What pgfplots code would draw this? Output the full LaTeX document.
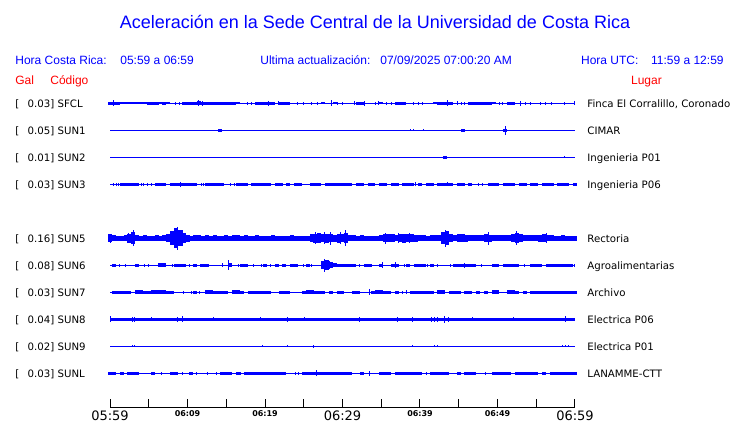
\documentclass[border=0pt]{standalone}
\usepackage{fontspec}
\setmainfont{DejaVu Sans}
\newfontfamily\arial{Liberation Sans}
\usepackage{pgfplots}
\usepackage{pgfplotstable}
\pgfplotsset{compat=1.18}

% time in minutes after 05:59, amplitude a = half height in px (1 px = 0.5pt)
% B = wide blocks (0.5 min), S = thin spikes
\pgfplotstableread[row sep=\\]{t a\\0 1.5\\0.5 1.5\\1 1.5\\1.5 1.2\\2 1.2\\2.5 1.2\\3 1.2\\3.5 1.2\\4 1.2\\4.5 1.2\\5 1.3\\5.5 1.3\\6 1.3\\6.5 1.2\\7 1.3\\7.5 1.2\\9.5 1.3\\10 1.3\\10.5 1.5\\11 1.5\\11.5 1.8\\12 1.3\\12.5 1.3\\13 1.3\\13.5 1.3\\14 1.3\\14.5 1.3\\15 1.3\\15.5 1.3\\16 1.3\\16.5 1.2\\19 1.3\\19.5 1.3\\20 1.5\\20.5 1.5\\21 1.3\\22 1.3\\22.5 1.3\\23 1.3\\27.5 1.2\\29 1.2\\32 1.3\\32.5 1.5\\35 1.2\\37 1.3\\37.5 1.3\\38 1.3\\42 1.2\\42.5 1.3\\43 1.3\\43.5 1.5\\44 1.3\\46.5 1.3\\47 1.3\\47.5 1.3\\48 1.3\\48.5 1.3\\49 1.3\\49.5 1.2\\51.5 1.3\\52 1.3\\}\sfclB
\pgfplotstableread[row sep=\\]{t a\\0.5 3\\8.5 1.5\\9 1.5\\11.4 3\\11.9 2.5\\17.7 1.5\\18.2 1.5\\20.4 2.5\\21.8 2\\24.2 1.5\\25 1.5\\26 1.5\\26.8 1.5\\28.6 3\\29.4 1.5\\30 1.5\\31.6 2\\32.8 2.5\\34.2 1.5\\34.7 2\\35.7 1.5\\36.3 1.5\\39.2 1.5\\39.8 1.5\\40.3 1.5\\43.5 3\\44.8 2\\45.3 1.5\\45.8 1.5\\50.2 1.5\\50.7 1.5\\53 2.5\\53.6 1.5\\54.3 1.5\\55.6 1.5\\56.2 1.5\\57 1.5\\58.7 1.5\\60 2\\}\sfclS

\pgfplotstableread[row sep=\\]{t a\\14.2 1.5\\45.5 1.5\\51 1.5\\}\sunaB
\pgfplotstableread[row sep=\\]{t a\\38.8 1\\39.1 1\\40.4 1\\51 4.3\\}\sunaS

\pgfplotstableread[row sep=\\]{t a\\43.2 1.5\\}\sunbB
\pgfplotstableread[row sep=\\]{t a\\58.7 0.8\\}\sunbS

\pgfplotstableread[row sep=\\]{t a\\1.5 1.5\\2 1.5\\2.5 1.5\\3 1.5\\3.5 1.5\\6 1.5\\6.5 1.5\\7 1.5\\8 1.5\\8.5 1.5\\9 1.6\\9.5 1.5\\10 1.5\\10.5 1.5\\11 1.5\\12.5 1.5\\13 1.5\\13.5 1.5\\14 1.5\\14.5 1.5\\16.5 1.5\\17 1.5\\17.5 1.5\\18.5 1.5\\19 1.5\\19.5 1.5\\20 1.5\\20.5 1.5\\21.5 1.5\\22 1.5\\23 1.5\\24 1.5\\24.5 1.5\\26 1.5\\26.5 1.5\\27 1.5\\28 1.5\\28.5 1.5\\29 1.5\\29.5 1.5\\30 1.5\\30.5 1.5\\31 1.5\\32 1.5\\32.5 1.5\\33.5 1.5\\34 1.5\\35 1.5\\35.5 1.5\\36.5 1.5\\37 1.5\\38 1.5\\38.5 1.5\\39 1.5\\40 1.5\\41 1.5\\41.5 1.5\\42.5 1.5\\43 1.5\\43.5 1.6\\44 1.5\\45 1.5\\45.5 1.5\\46.5 1.5\\49 1.5\\49.5 1.5\\50 1.5\\51 1.5\\51.5 1.5\\52 1.5\\53 1.5\\53.5 1.5\\54.5 1.5\\55 1.5\\56 1.5\\56.5 1.5\\57 1.5\\58 1.5\\58.5 1.5\\59 1.5\\60 1.5\\}\suncB
\pgfplotstableread[row sep=\\]{t a\\0.4 1.5\\0.8 1.5\\1.1 1.5\\4 1.5\\4.3 1.5\\4.9 1.5\\5.3 1.5\\9.1 2.5\\11.8 1.5\\12.1 1.5\\15.6 1.5\\16 1.5\\39.4 2\\43.6 2\\47.5 1.5\\48.1 1.5\\}\suncS

\pgfplotstableread[row sep=\\]{t a\\0 4\\0.5 3\\1 2.5\\1.5 2.5\\2 3\\2.5 4.5\\3 6\\3.5 3\\4 2.5\\4.5 3\\5 2.5\\5.5 2.5\\6 3\\6.5 2.5\\7 3\\7.5 4\\8 7\\8.5 10\\9 8\\9.5 5\\10 3.5\\10.5 2.5\\11 3\\11.5 3\\12 2.5\\12.5 3\\13 2.5\\13.5 3\\14 2.5\\14.5 2.5\\15 3\\15.5 2.5\\16 3\\16.5 3\\17 2.5\\17.5 3\\18 2.5\\18.5 2.5\\19 3\\19.5 2.5\\20 2.5\\20.5 2.5\\21 3\\21.5 2.5\\22 2.5\\22.5 2.5\\23 2.5\\23.5 3\\24 2.5\\24.5 2.5\\25 2.5\\25.5 2.5\\26 4\\26.5 4.5\\27 5\\27.5 4\\28 4.5\\28.5 4\\29 3.5\\29.5 4.5\\30 4\\30.5 5\\31 3\\31.5 3\\32 2.5\\32.5 3\\33 2.5\\33.5 2.5\\34 2.5\\34.5 2.5\\35 3\\35.5 4\\36 4\\36.5 4\\37 3\\37.5 4\\38 4.5\\38.5 4\\39 4\\39.5 3.5\\40 3\\40.5 3\\41 2.5\\41.5 3\\42 3\\42.5 3\\43 6\\43.5 7\\44 4\\44.5 3\\45 4\\45.5 4\\46 3.5\\46.5 3\\47 3\\47.5 3\\48 3\\48.5 4\\49 3.5\\49.5 3\\50 3\\50.5 3\\51 3\\51.5 3\\52 4\\52.5 5\\53 4\\53.5 3\\54 3\\54.5 3\\55 3\\55.5 3.5\\56 4\\56.5 3\\57 3\\57.5 2.5\\58 2.5\\58.5 3\\59 2.5\\59.5 2.5\\60 2.5\\}\suneB
\pgfplotstableread[row sep=\\]{t a\\0.1 4.5\\2.4 5\\3 8\\8.3 9\\8.7 11.5\\9.3 8\\26.5 6\\27.7 6\\28.4 6.5\\29.8 6\\30.4 8\\35.6 5.5\\37.2 5\\38.6 5\\43.3 8.5\\48.9 6.5\\52.4 7\\56.3 5\\}\suneS

\pgfplotstableread[row sep=\\]{t a\\0.5 1.3\\3.5 1.3\\6.5 1.8\\7 1.8\\8.5 1.5\\9 1.5\\9.5 1.3\\11 1.3\\12 1.3\\12.5 1.3\\15.5 2\\17 1.3\\17.5 1.3\\20 1.3\\21.5 1.3\\22.5 1.3\\23.5 1.3\\24 1.3\\25.5 1.3\\27.5 4\\28 5\\28.5 3\\29 2\\29.5 1.3\\30 1.3\\30.5 1.3\\31 1.3\\31.5 1.3\\33 1.3\\33.5 1.3\\35 1.3\\36.5 1.5\\37 1.3\\38.5 1.3\\39.5 1.3\\40 1.3\\40.5 1.3\\41.5 1.3\\44.5 1.3\\45 1.3\\45.5 1.5\\46 1.3\\46.5 1.3\\47 1.3\\49.5 1.3\\50 1.3\\51 1.3\\51.5 1.3\\52 1.3\\52.5 1.3\\54.5 1.3\\55 1.3\\55.5 1.3\\56.5 1.3\\57 1.3\\57.5 1.3\\58 1.3\\58.5 1.3\\59 1.3\\59.5 1.3\\}\sunfB
\pgfplotstableread[row sep=\\]{t a\\1.2 1.5\\2 1.5\\4.5 1.5\\5 1.5\\8 1.5\\10.3 1.5\\11.7 1.5\\14.5 2\\15.3 5\\16.6 1.5\\18.5 1.5\\19.5 1.5\\20.7 1.5\\25 1.5\\26 1.5\\27.7 6.5\\28.3 4\\32.2 1.5\\35.2 3\\36.9 3\\38 1.5\\41 1.5\\42.2 1.5\\44 1.5\\45.8 2.5\\48 1.5\\53.5 1.5\\60 1.5\\}\sunfS

\pgfplotstableread[row sep=\\]{t a\\0.5 1.5\\1 1.5\\1.5 1.5\\2 1.5\\2.5 1.5\\3.5 2\\4 2\\4.5 1.5\\5 1.5\\5.5 2\\6 2\\6.5 2\\7 2\\7.5 1.5\\8 1.5\\11 1.5\\12.5 2\\13 2\\13.5 1.5\\14 1.5\\14.5 1.5\\15 1.5\\16 2\\16.5 2\\17 1.5\\18 1.5\\18.5 1.5\\19 1.5\\19.5 1.5\\20 1.5\\20.5 1.5\\22 1.5\\22.5 1.5\\23 1.5\\25 1.5\\25.5 2\\26 2\\26.5 1.5\\27 1.5\\27.5 1.5\\28.5 1.5\\29.5 1.5\\30 1.5\\31.5 1.5\\32 1.5\\34 1.5\\34.5 2\\35 2\\35.5 1.5\\36 1.5\\37 1.5\\39 1.5\\39.5 1.5\\40 1.5\\40.5 1.5\\41 1.5\\41.5 1.5\\42.5 2\\43 2\\44 1.5\\44.5 1.5\\45 1.5\\46 1.5\\46.5 1.5\\47.5 1.5\\48.5 1.5\\49.5 2\\50 2\\51.5 2\\52 2\\52.5 1.5\\53.5 1.5\\54.5 1.5\\55 1.5\\55.5 1.5\\56 1.5\\56.5 1.5\\57 1.5\\57.5 1.5\\58 1.5\\58.5 1.5\\59 1.5\\59.5 1.5\\60 1.5\\}\sungB
\pgfplotstableread[row sep=\\]{t a\\9.5 1.5\\10.5 1.5\\11.6 1.5\\33.5 3\\36.8 1.5\\37.8 1.5\\38.2 2\\}\sungS

\pgfplotstableread[row sep=\\]{t a\\0.1 3\\2.9 2.5\\3.1 2.5\\5.4 2\\8.7 2.5\\9.4 3\\13.3 2\\19.4 2\\22.9 2.5\\25.1 2\\32.2 2.5\\37.1 2.5\\39 2.5\\41.5 2.5\\41.9 2.5\\42.2 2.5\\43.2 3.5\\43.7 2.5\\46.8 2\\52.1 2\\58.8 3\\}\sunhS

\pgfplotstableread[row sep=\\]{t a\\2.9 1\\3.2 1\\19.7 0.8\\22.9 0.8\\26.2 1.5\\39 1\\41.9 1\\42.2 1\\58.4 1\\58.8 1\\59.1 1\\}\suniS

\pgfplotstableread[row sep=\\]{t a\\0 1.3\\0.5 1.3\\1.5 1.3\\2.5 1.3\\3 1.3\\3.5 1.3\\5.5 1.3\\8 1.3\\8.5 1.3\\10.5 1.3\\14.5 1.3\\15 1.3\\15.5 1.3\\16.5 1.3\\17.5 1.3\\18 1.3\\18.5 1.3\\19 1.3\\19.5 1.3\\20 1.3\\20.5 1.3\\21 1.3\\21.5 1.3\\22 1.3\\22.5 1.3\\25 1.3\\25.5 1.3\\26 1.3\\26.5 1.3\\27 1.3\\27.5 1.3\\28 1.3\\28.5 1.3\\29 1.3\\29.5 1.3\\30 1.3\\30.5 1.3\\31 1.3\\32.5 1.3\\35 1.3\\35.5 1.3\\36 1.3\\37 1.3\\37.5 1.3\\38 1.3\\38.5 1.3\\39 1.3\\39.5 1.3\\40 1.3\\41.5 1.3\\42 1.3\\42.5 1.3\\43 1.3\\43.5 1.3\\45 1.3\\46 1.3\\46.5 1.3\\47 1.3\\49.5 1.3\\50 1.3\\50.5 1.3\\51 1.3\\51.5 1.3\\52.5 1.3\\53 1.3\\53.5 1.3\\54 1.3\\54.5 1.3\\55 1.3\\56 1.3\\57 1.3\\57.5 1.3\\58 1.3\\58.5 1.3\\59 1.3\\59.5 1.3\\60 1.3\\}\sunlB
\pgfplotstableread[row sep=\\]{t a\\6.6 1.5\\9.3 1.5\\11.2 1.5\\12.6 1.5\\13.8 1.5\\16.8 1.5\\23.9 1.5\\24.3 1.5\\26.6 3\\33.5 2.5\\40.8 1.5\\44.8 1.5\\48.4 1.5\\56.2 1.5\\}\sunlS

\newcommand{\traceline}[1]{%
  \addplot[blue, line width=0.5pt] coordinates {(0,#1) (60,#1)};}
\newcommand{\blocks}[2]{%
  \addplot[draw=none, mark=none, error bars/.cd, y dir=both, y explicit, error mark=none,
    error bar style={draw=blue, line width=2pt}] table[x=t, y expr=#1, y error=a] {#2};}
\newcommand{\spikes}[2]{%
  \addplot[draw=none, mark=none, error bars/.cd, y dir=both, y explicit, error mark=none,
    error bar style={draw=blue, line width=0.5pt}] table[x=t, y expr=#1, y error=a] {#2};}
% left and right labels; #1 = baseline (negative px)
\newcommand{\station}[4]{%
  \node[lbl] at (axis cs:-12.258,#1) {[};
  \node[lbl] at (axis cs:-10.671,#1) {#2] #3};
  \node[lbl] at (axis cs:61.548,#1) {#4};}

\begin{document}
\begin{tikzpicture}[
  lbl/.style={anchor=base west, inner sep=0pt, font=\fontsize{5.1}{6}\selectfont},
  hdr/.style={anchor=base west, inner sep=0pt, text=blue, font=\arial\fontsize{6}{7}\selectfont}]
\begin{axis}[
  scale only axis, width=232.5pt, height=204pt,
  xmin=0, xmax=60, ymin=-408, ymax=0,
  axis x line*=bottom, axis y line=none,
  x axis line style={-, black, line width=0.5pt},
  clip=false,
  xtick={0,10,...,60}, minor xtick={5,15,...,55},
  tick align=inside, major tick length=4.5pt, minor tick length=4.5pt,
  every tick/.style={black, line width=0.5pt},
  xticklabels={{\fontsize{6.5}{7}\selectfont 05:59},
    {\fontsize{4}{5}\selectfont\bfseries 06:09},
    {\fontsize{4}{5}\selectfont\bfseries 06:19},
    {\fontsize{6.5}{7}\selectfont 06:29},
    {\fontsize{4}{5}\selectfont\bfseries 06:39},
    {\fontsize{4}{5}\selectfont\bfseries 06:49},
    {\fontsize{6.5}{7}\selectfont 06:59}},
  xticklabel style={anchor=north, inner sep=0pt, yshift=-1.2pt},
]
\path (axis cs:-14.194,0) -- (axis cs:81.290,-423);

\node[anchor=base, inner sep=0pt, text=blue, font=\arial\fontsize{9}{10}\selectfont]
  at (axis cs:34.194,-29) {Aceleración en la Sede Central de la Universidad de Costa Rica};
\node[hdr] at (axis cs:-12.258,-65) {Hora Costa Rica:};
\node[hdr] at (axis cs:1.290,-65) {05:59 a 06:59};
\node[hdr] at (axis cs:19.355,-65) {Ultima actualización:};
\node[hdr] at (axis cs:34.839,-65) {07/09/2025 07:00:20 AM};
\node[hdr] at (axis cs:60.735,-65) {Hora UTC:};
\node[hdr] at (axis cs:69.768,-65) {11:59 a 12:59};
\node[hdr, text=red] at (axis cs:-12.258,-85) {Gal};
\node[hdr, text=red] at (axis cs:-7.742,-85) {Código};
\node[hdr, text=red] at (axis cs:67.187,-85) {Lugar};

\traceline{-103.3}\blocks{-103.3}{\sfclB}\spikes{-103.3}{\sfclS}
\traceline{-130.3}\blocks{-130.3}{\sunaB}\spikes{-130.3}{\sunaS}
\traceline{-157.3}\blocks{-157.3}{\sunbB}\spikes{-157.3}{\sunbS}
\traceline{-184.3}\blocks{-184.3}{\suncB}\spikes{-184.3}{\suncS}
\traceline{-238.3}\blocks{-238.3}{\suneB}\spikes{-238.3}{\suneS}
\traceline{-265.3}\blocks{-265.3}{\sunfB}\spikes{-265.3}{\sunfS}
\traceline{-292.3}\blocks{-292.3}{\sungB}\spikes{-292.3}{\sungS}
\addplot[blue, line width=1.7pt] coordinates {(0,-319.3) (60,-319.3)};
\spikes{-319.3}{\sunhS}
\traceline{-346.3}\spikes{-346.3}{\suniS}
\traceline{-373.3}\blocks{-373.3}{\sunlB}\spikes{-373.3}{\sunlS}

\station{-107.3}{0.03}{SFCL}{Finca El Corralillo, Coronado}
\station{-134.3}{0.05}{SUN1}{CIMAR}
\station{-161.3}{0.01}{SUN2}{Ingenieria P01}
\station{-188.3}{0.03}{SUN3}{Ingenieria P06}
\station{-242.3}{0.16}{SUN5}{Rectoria}
\station{-269.3}{0.08}{SUN6}{Agroalimentarias}
\station{-296.3}{0.03}{SUN7}{Archivo}
\station{-323.3}{0.04}{SUN8}{Electrica P06}
\station{-350.3}{0.02}{SUN9}{Electrica P01}
\station{-377.3}{0.03}{SUNL}{LANAMME-CTT}
\end{axis}
\end{tikzpicture}
\end{document}
